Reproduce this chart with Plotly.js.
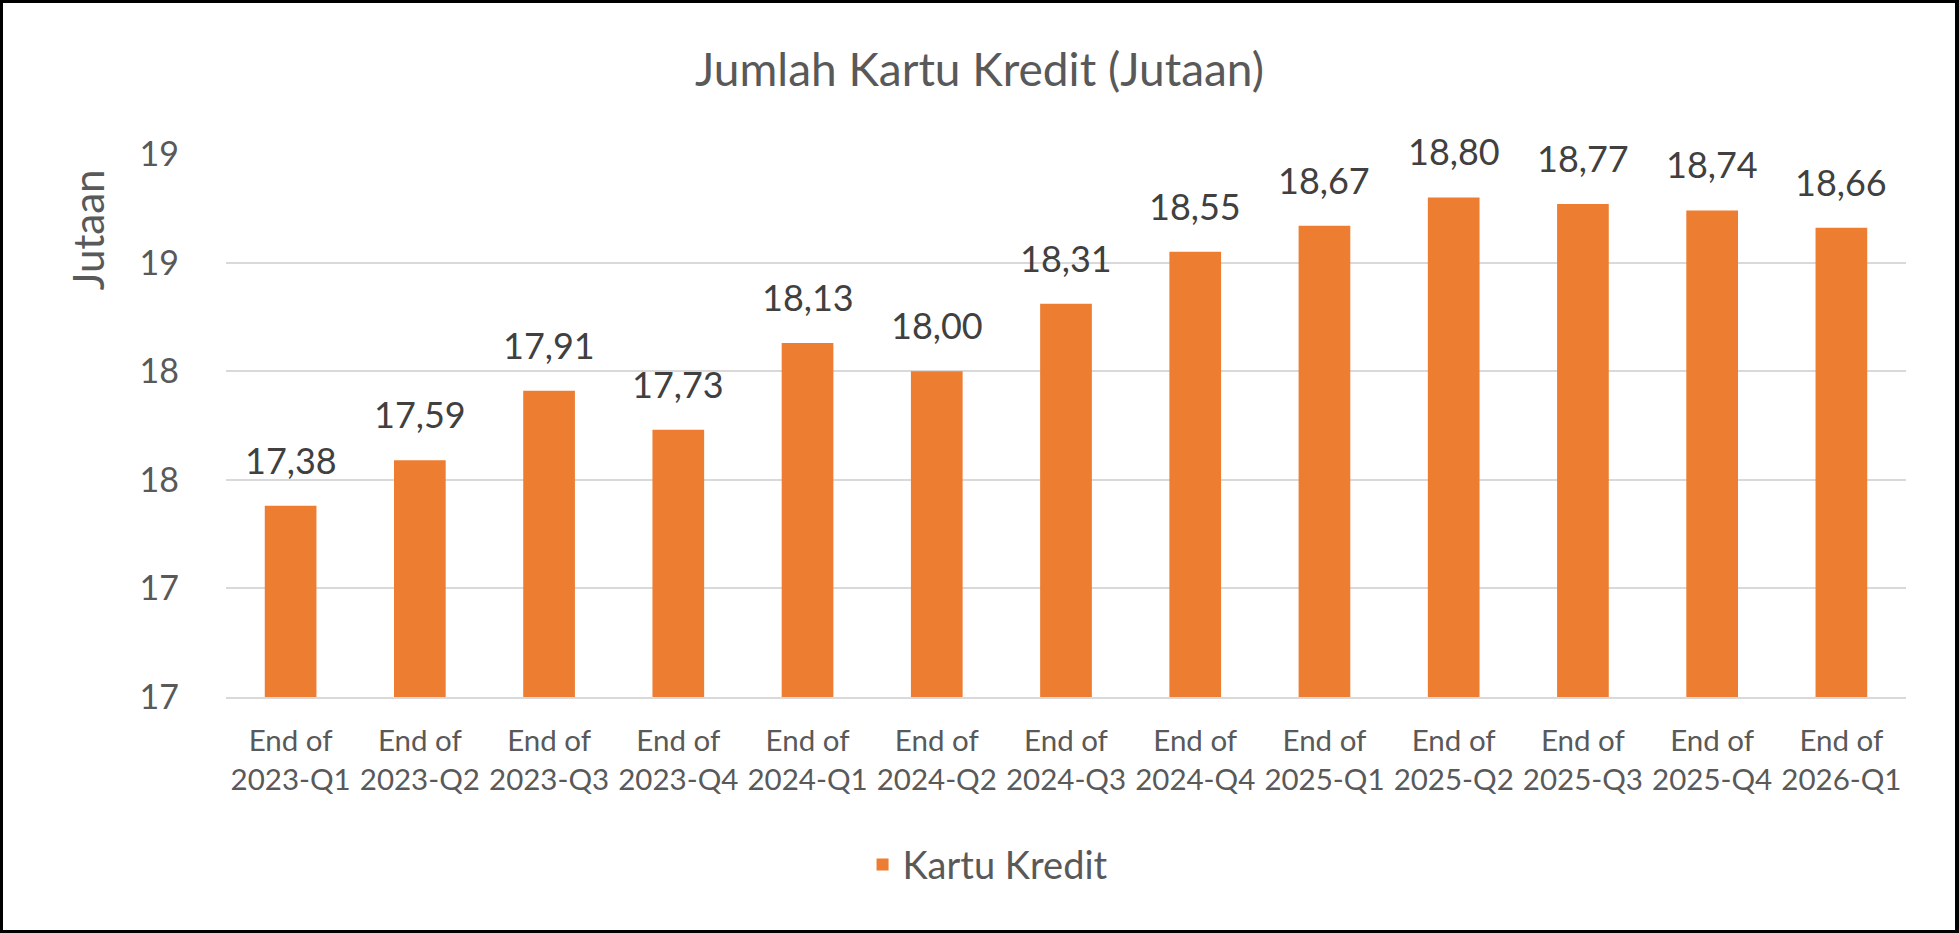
<!DOCTYPE html>
<html>
<head>
<meta charset="utf-8">
<script src="https://cdn.plot.ly/plotly-3.0.1.min.js"></script>
<style>
  html, body { margin: 0; padding: 0; background: #fff; }
  #wrap { position: relative; width: 1959px; height: 933px; }
  #chart { width: 1959px; height: 933px; }
  #frame {
    position: absolute; left: 0; top: 0; width: 1959px; height: 933px;
    box-sizing: border-box; border: 3px solid #000; border-right-width: 4px;
    pointer-events: none;
  }
</style>
</head>
<body>
<div id="wrap">
  <div id="chart"></div>
  <div id="frame"></div>
</div>
<script>
  // quarters shown on the x axis
  var periods = ['2023-Q1', '2023-Q2', '2023-Q3', '2023-Q4', '2024-Q1', '2024-Q2', '2024-Q3',
                 '2024-Q4', '2025-Q1', '2025-Q2', '2025-Q3', '2025-Q4', '2026-Q1']
  // jumlah kartu kredit, jutaan
  var kartuKredit = [17.38, 17.59, 17.91, 17.73, 18.13, 18.00, 18.31, 18.55, 18.67, 18.80, 18.77, 18.74, 18.66]
  // y ticks: excel shows them rounded to 0 decimals
  var yTickVals = [16.5, 17, 17.5, 18, 18.5, 19]
  var yTickText = ['17', '17', '18', '18', '19', '19']

  var font = 'Lato, "Open Sans", sans-serif'
  var categories = periods.map(p => 'End of<br>' + p)

  var trace = {
    x: categories,
    y: kartuKredit,
    type: 'bar',
    name: 'Kartu Kredit',
    marker: { color: '#ED7D31' },
    hoverinfo: 'skip'
  }

  // data labels with comma decimals
  var labels = kartuKredit.map((v, i) => ({
    x: categories[i],
    y: v,
    xref: 'x',
    yref: 'y',
    text: v.toFixed(2).replace('.', ','),
    showarrow: false,
    yanchor: 'bottom',
    yshift: 22,
    font: { family: font, size: 36, color: '#404040' }
  }))

  labels.push({
    xref: 'paper', yref: 'paper',
    x: -0.082, y: 0.86,
    text: 'Jutaan',
    textangle: -90,
    showarrow: false,
    xanchor: 'center', yanchor: 'middle',
    font: { family: font, size: 42, color: '#595959' }
  })

  var layout = {
    width: 1959,
    height: 933,
    margin: { t: 154, b: 236, l: 226, r: 53 },
    paper_bgcolor: '#fff',
    plot_bgcolor: '#fff',
    bargap: 0.6,
    title: {
      text: 'Jumlah Kartu Kredit (Jutaan)',
      x: 0.5, xref: 'container', xanchor: 'center',
      y: 0.925, yref: 'container', yanchor: 'middle',
      font: { family: font, size: 46, color: '#595959' }
    },
    xaxis: {
      type: 'category',
      tickfont: { family: font, size: 29.5, color: '#595959' },
      ticklabelstandoff: 17,
      showgrid: false,
      showline: true,
      linecolor: '#d9d9d9',
      linewidth: 2,
      ticks: ''
    },
    yaxis: {
      range: [16.5, 19.0],
      tickvals: yTickVals,
      ticktext: yTickText,
      tickfont: { family: font, size: 34, color: '#595959' },
      ticklabelstandoff: 46,
      gridcolor: '#d9d9d9',
      gridwidth: 2,
      zeroline: false,
      ticks: ''
    },
    showlegend: true,
    legend: {
      orientation: 'h',
      x: 0.4536, xanchor: 'center',
      y: -0.309, yanchor: 'middle',
      font: { family: font, size: 38, color: '#595959' }
    },
    annotations: labels
  }

  var config = { displayModeBar: false, staticPlot: true }

  Plotly.newPlot('chart', [trace], layout, config)
</script>
</body>
</html>
